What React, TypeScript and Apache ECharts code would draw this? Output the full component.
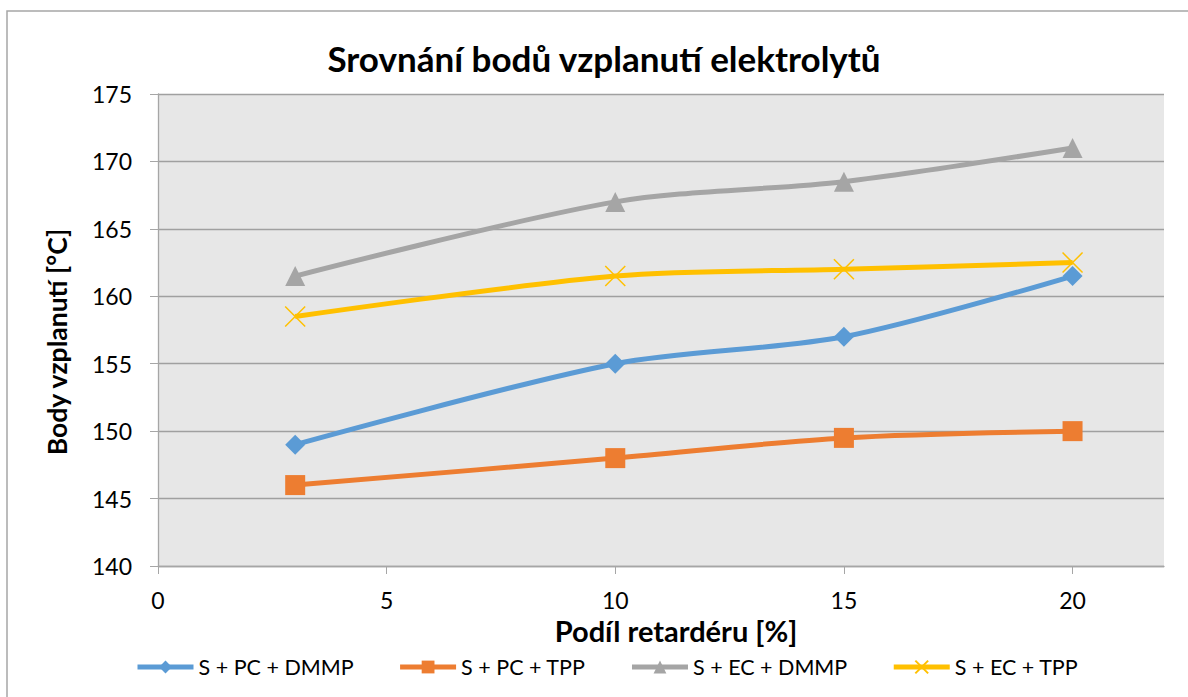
import React, { useEffect, useRef } from "react";
import * as echarts from "echarts";

const xValues = [3, 10, 15, 20];
const seriesNames = ["S + PC + DMMP", "S + PC + TPP", "S + EC + DMMP", "S + EC + TPP"];
const pcDmmp = [149, 155, 157, 161.5];
const pcTpp = [146, 148, 149.5, 150];
const ecDmmp = [161.5, 167, 168.5, 171];
const ecTpp = [158.5, 161.5, 162, 162.5];
const xTicks = [0, 5, 10, 15, 20];
const titleText = "Srovnání bodů vzplanutí elektrolytů";
const xName = "Podíl retardéru [%]";
const yName = "Body vzplanutí [°C]";

const colors = ["#5B9BD5", "#ED7D31", "#A5A5A5", "#FFC000"];
const FONT = "Lato, 'Open Sans', sans-serif";

export default function App() {
  const ref = useRef<HTMLDivElement>(null);
  useEffect(() => {
    document.body.style.margin = "0";
    if (!ref.current) return;
    const chart = echarts.init(ref.current, null, { renderer: "svg" });
    const pair = (ys: number[]) => xValues.map((x, i) => [x, ys[i]]);
    const mk = (name: string, ys: number[], color: string, symbol: string, size: number, extra: any = {}) => ({
      name,
      type: "line",
      data: pair(ys),
      smooth: 0.3,
      symbol,
      symbolSize: size,
      showAllSymbol: true,
      lineStyle: { color, width: 5 },
      itemStyle: { color, borderColor: color, borderWidth: 0, ...extra },
      emphasis: { disabled: true },
    });
    chart.setOption({
      animation: false,
      textStyle: { fontFamily: FONT },
      graphic: [
        {
          type: "rect",
          silent: true,
          z: -10,
          shape: { x: 7, y: 11, width: 1400, height: 900 },
          style: { fill: "none", stroke: "#A6A6A6", lineWidth: 1.5 },
        },
      ],
      title: {
        text: titleText,
        left: 599,
        textAlign: "center",
        top: 35,
        textStyle: { fontFamily: FONT, fontWeight: "bold", fontSize: 35, color: "#000" },
      },
      legend: {
        left: 130,
        top: 651,
        itemGap: 44,
        itemWidth: 56,
        itemHeight: 16,
        lineStyle: { width: 5 },
        textStyle: { fontFamily: FONT, fontSize: 21.5, color: "#000" },
        data: seriesNames,
      },
      grid: {
        left: 158,
        top: 94,
        right: 24,
        bottom: 131,
        show: true,
        backgroundColor: "#E7E7E7",
        borderWidth: 0,
        containLabel: false,
        outerBoundsMode: "none",
      },
      xAxis: {
        type: "value",
        min: 0,
        max: 22,
        interval: 5,
        name: xName,
        nameLocation: "middle",
        nameGap: 49,
        nameTextStyle: { fontFamily: FONT, fontWeight: "bold", fontSize: 29, color: "#000", padding: [0, 0, 0, 30] },
        axisLine: { show: true, lineStyle: { color: "#A6A6A6", width: 1.3 } },
        axisTick: { show: true, length: 8, inside: false, customValues: xTicks, lineStyle: { color: "#A6A6A6" } },
        axisLabel: { customValues: xTicks, margin: 22, fontFamily: FONT, fontSize: 23, color: "#000" },
        splitLine: { show: false },
      },
      yAxis: {
        type: "value",
        min: 140,
        max: 175,
        interval: 5,
        name: yName,
        nameLocation: "middle",
        nameGap: 88,
        nameTextStyle: { fontFamily: FONT, fontWeight: "bold", fontSize: 26.5, color: "#000", padding: [0, 24, 0, 0] },
        axisLine: { show: true, lineStyle: { color: "#A6A6A6", width: 1.3 } },
        axisTick: { show: true, length: 8, inside: false, lineStyle: { color: "#A6A6A6" } },
        axisLabel: { margin: 26, fontFamily: FONT, fontSize: 23, color: "#000" },
        splitLine: { show: true, lineStyle: { color: "#A0A0A0", width: 1.3 } },
      },
      series: [
        mk(seriesNames[0], pcDmmp, colors[0], "diamond", 20),
        mk(seriesNames[1], pcTpp, colors[1], "rect", 20),
        mk(seriesNames[2], ecDmmp, colors[2], "triangle", 20),
        mk(seriesNames[3], ecTpp, colors[3], "path://M0,0L20,20M20,0L0,20", 20, { borderWidth: 1.5, color: "none", borderColor: colors[3] }),
      ],
    });
    return () => chart.dispose();
  }, []);
  return <div ref={ref} style={{ position: "absolute", left: 0, top: 0, width: 1188, height: 697 }} />;
}
